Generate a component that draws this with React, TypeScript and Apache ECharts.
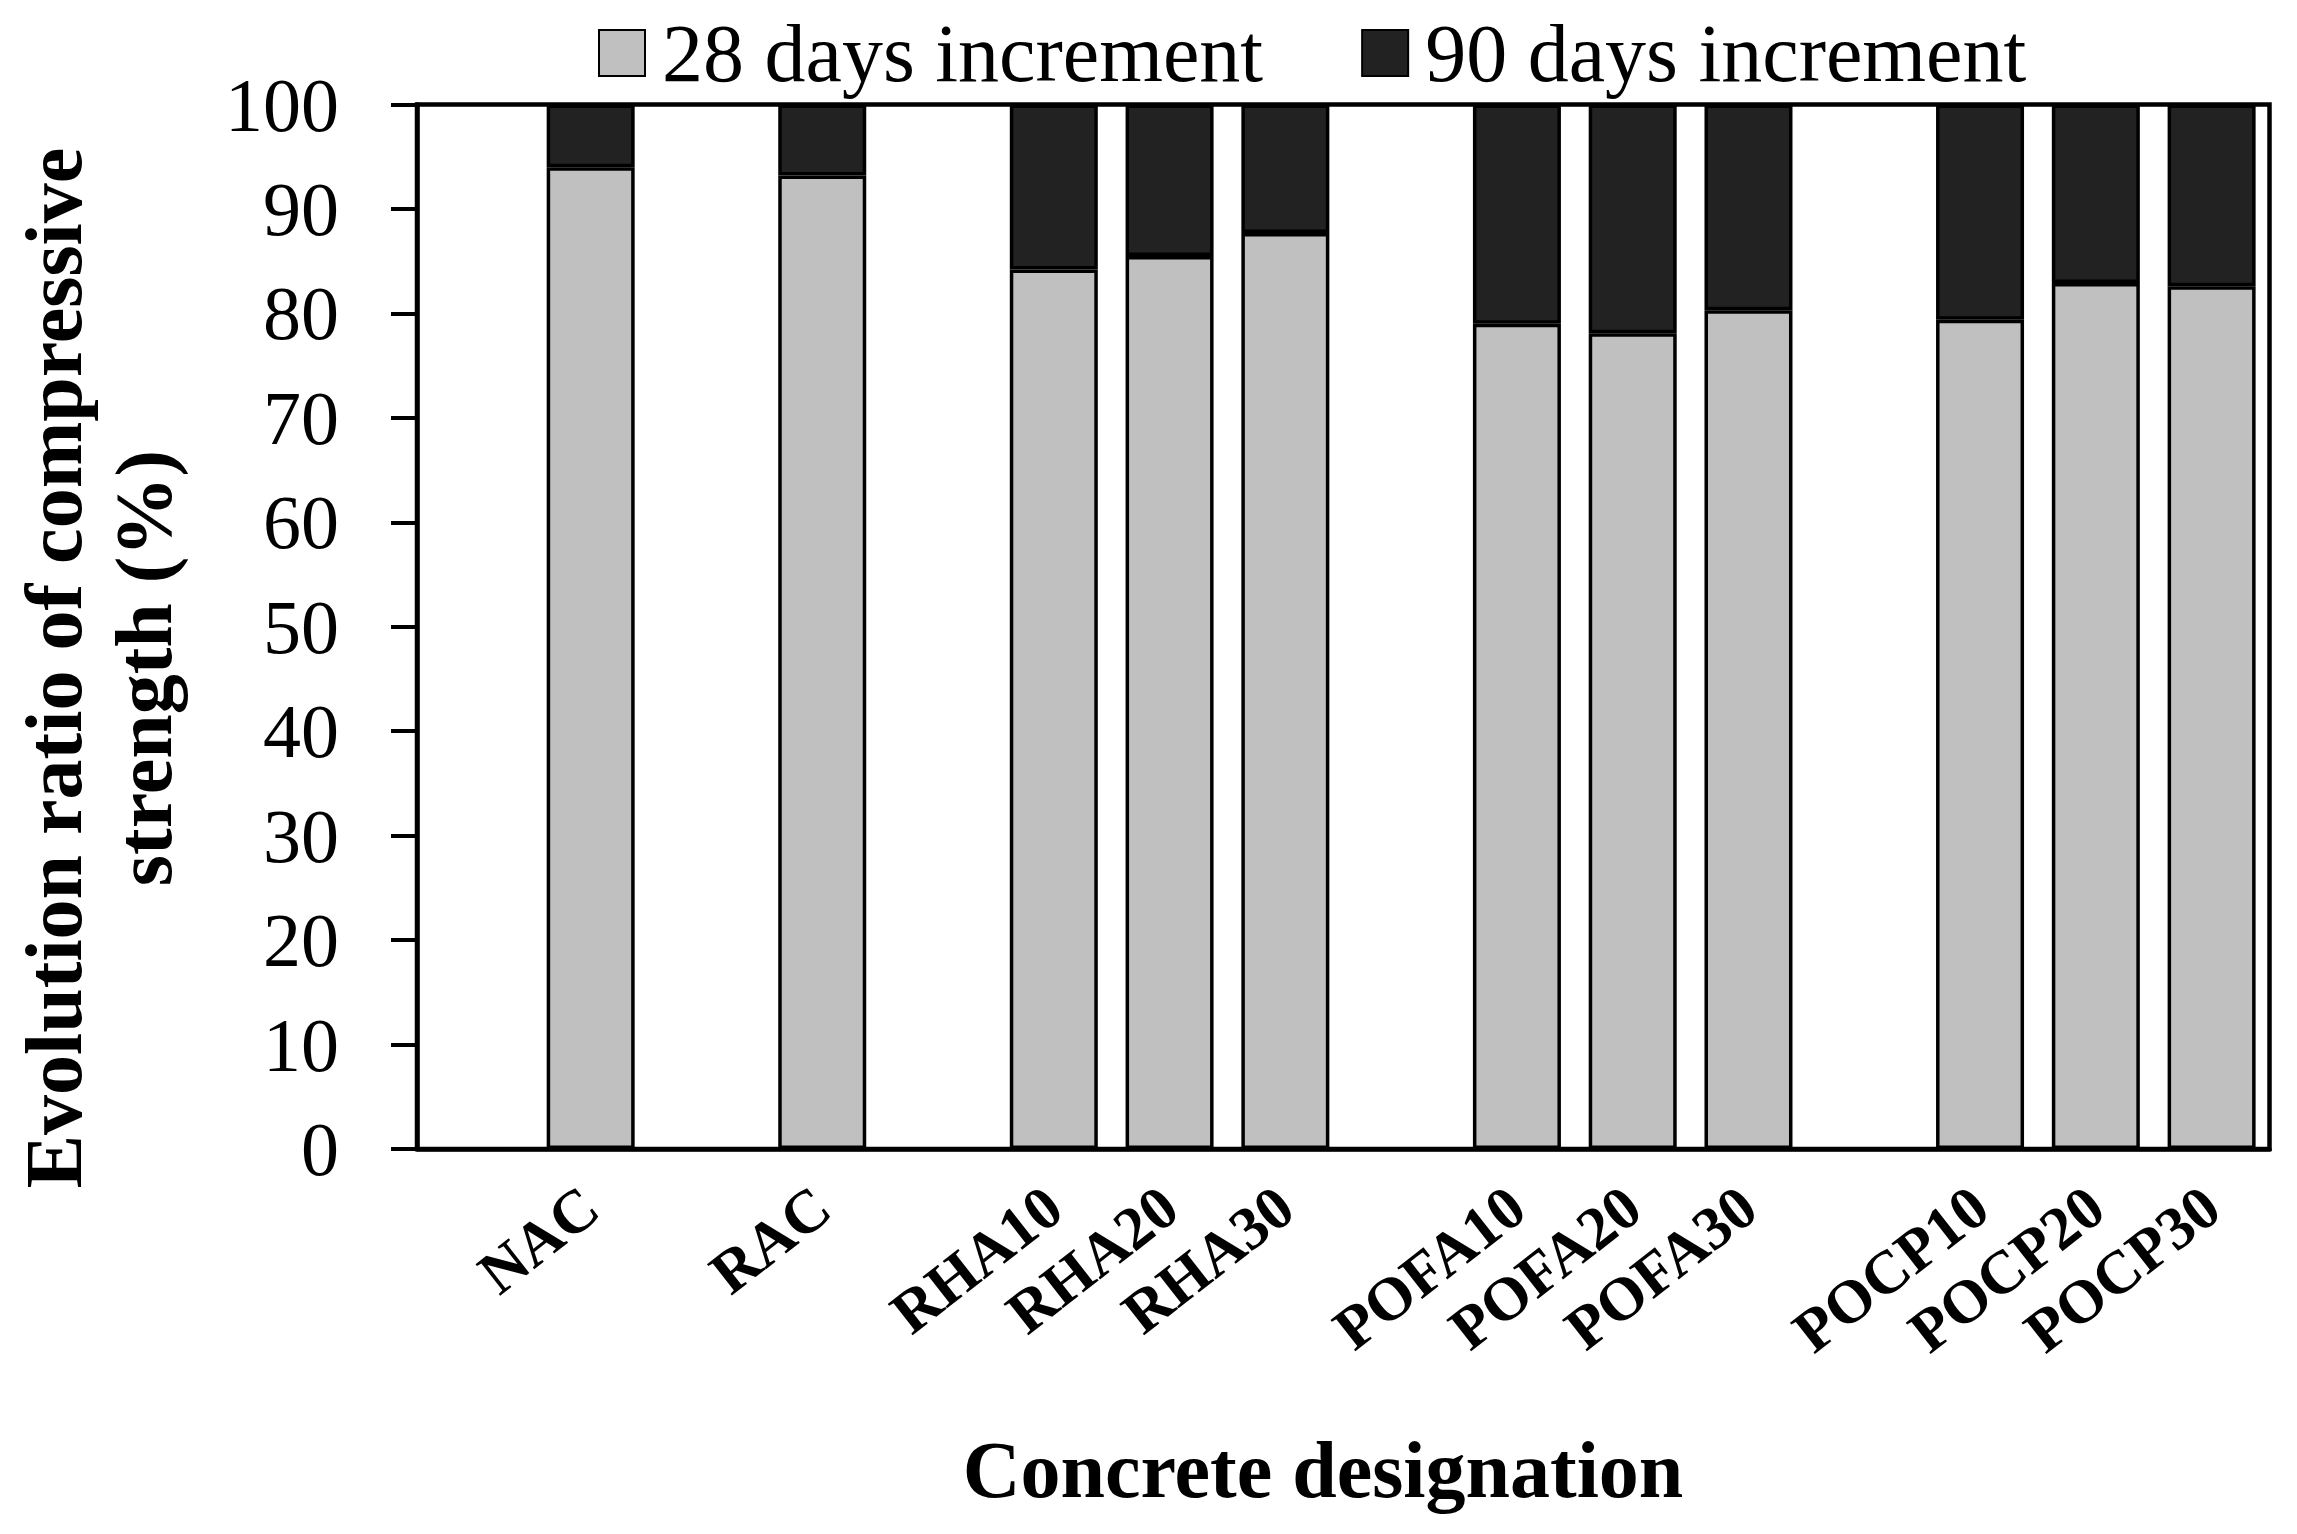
import React, { useEffect, useRef } from "react";
import * as echarts from "echarts";

const categories = ["", "NAC", "", "RAC", "", "RHA10", "RHA20", "RHA30", "", "POFA10", "POFA20", "POFA30", "", "POCP10", "POCP20", "POCP30"];
const increment28 = [null, 94.0, null, 93.2, null, 84.2, 85.5, 87.7, null, 79.0, 78.1, 80.3, null, 79.4, 82.9, 82.6];
const increment90 = [null, 6.0, null, 6.8, null, 15.8, 14.5, 12.3, null, 21.0, 21.9, 19.7, null, 20.6, 17.1, 17.4];
const seriesNames = ["28 days increment", "90 days increment"];
const yTitle = "Evolution ratio of compressive\nstrength (%)";
const xTitle = "Concrete designation";

const FONT = "'Liberation Serif', 'Times New Roman', serif";

export default function App() {
  const ref = useRef<HTMLDivElement>(null);
  useEffect(() => {
    if (!ref.current) return;
    const chart = echarts.init(ref.current, null, { renderer: "svg" });
    chart.setOption({
      animation: false,
      backgroundColor: "#ffffff",
      textStyle: { fontFamily: FONT, color: "#000" },
      legend: {
        left: 593,
        top: 7,
        icon: "rect",
        itemWidth: 46,
        itemHeight: 46,
        itemGap: 98,
        textStyle: { fontFamily: FONT, fontSize: 82, color: "#000", padding: [0, 0, 0, 12] },
        data: seriesNames,
      },
      grid: {
        left: 417,
        right: 27.5,
        top: 104.5,
        bottom: 385,
        show: true,
        borderColor: "#000",
        borderWidth: 4.5,
        backgroundColor: "transparent",
      },
      xAxis: {
        type: "category",
        data: categories,
        axisLine: { show: true, lineStyle: { color: "#000", width: 4.5 } },
        axisTick: { show: false },
        axisLabel: {
          interval: 0,
          rotate: 38,
          margin: 50,
          fontFamily: FONT,
          fontWeight: "bold",
          fontSize: 61,
          color: "#000",
        },
        splitLine: { show: false },
      },
      yAxis: {
        type: "value",
        min: 0,
        max: 100,
        interval: 10,
        axisLine: { show: true, lineStyle: { color: "#000", width: 4.5 } },
        axisTick: { show: true, inside: false, length: 26, lineStyle: { color: "#000", width: 4 } },
        axisLabel: { margin: 78, fontFamily: FONT, fontSize: 76, color: "#000" },
        splitLine: { show: false },
      },
      series: [
        {
          name: seriesNames[0],
          type: "bar",
          stack: "total",
          barWidth: 88,
          data: increment28,
          itemStyle: { color: "#C0C0C0", borderColor: "#000", borderWidth: 3.5 },
        },
        {
          name: seriesNames[1],
          type: "bar",
          stack: "total",
          barWidth: 88,
          data: increment90,
          itemStyle: { color: "#222222", borderColor: "#000", borderWidth: 3.5 },
        },
      ],
      graphic: [
        {
          type: "text",
          x: 99,
          y: 668,
          rotation: Math.PI / 2,
          style: {
            text: yTitle,
            fontFamily: FONT,
            fontWeight: "bold",
            fontSize: 80,
            lineHeight: 90,
            fill: "#000",
            align: "center",
            verticalAlign: "middle",
          },
        },
        {
          type: "text",
          x: 1323,
          y: 1470,
          style: {
            text: xTitle,
            fontFamily: FONT,
            fontWeight: "bold",
            fontSize: 80,
            fill: "#000",
            align: "center",
            verticalAlign: "middle",
          },
        },
      ],
    });
    return () => chart.dispose();
  }, []);
  return (
    <div
      ref={ref}
      style={{ position: "fixed", left: 0, top: 0, width: 2297, height: 1534, background: "#fff" }}
    />
  );
}
